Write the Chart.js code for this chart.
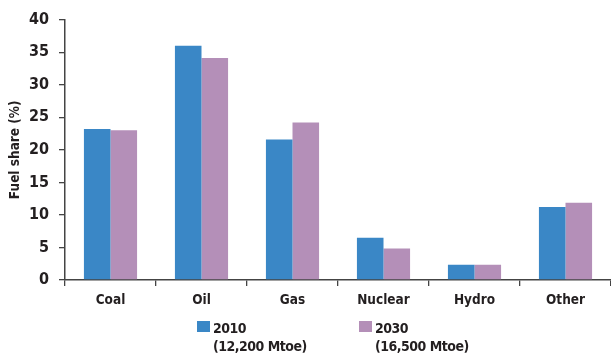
<!DOCTYPE html>
<html><head><meta charset="utf-8">
<script src="https://cdn.jsdelivr.net/npm/chart.js@4/dist/chart.umd.min.js"></script>
<style>html,body{margin:0;padding:0;background:#fff;}#wrap{width:611px;height:354px;position:relative;}</style>
</head><body><div id="wrap"><canvas id="c" width="611" height="354"></canvas></div>
<script>
const categories = ["Coal", "Oil", "Gas", "Nuclear", "Hydro", "Other"];
const values2010 = [23.2, 36.0, 21.6, 6.5, 2.35, 11.2];
const values2030 = [23.0, 34.1, 24.2, 4.85, 2.35, 11.85];
const seriesLabels = [["2010", "(12,200 Mtoe)"], ["2030", "(16,500 Mtoe)"]];
const yTicks = [0, 5, 10, 15, 20, 25, 30, 35, 40];

const FONT = "'DejaVu Sans Condensed', 'Liberation Sans Narrow', sans-serif";
const TXT = "#231f20";
const colors = ["#3a87c6", "#b48fb8"];

const legendPlugin = {
  id: 'customLegend',
  afterDraw(chart) {
    const ctx = chart.ctx;
    ctx.save();
    const xs = [197, 359];
    chart.data.datasets.forEach((ds, i) => {
      const x = xs[i];
      ctx.fillStyle = ds.backgroundColor;
      ctx.fillRect(x, 321, 13, 11);
      ctx.fillStyle = TXT;
      ctx.font = "bold 14px " + FONT;
      if ('letterSpacing' in ctx) ctx.letterSpacing = "-0.5px";
      ctx.textBaseline = 'alphabetic';
      ctx.textAlign = 'left';
      ctx.fillText(seriesLabels[i][0], x + 16, 333);
      ctx.fillText(seriesLabels[i][1], x + 16, 351);
    });
    ctx.restore();
  }
};

new Chart(document.getElementById('c'), {
  type: 'bar',
  data: {
    labels: categories,
    datasets: [
      { label: "2010", data: values2010, backgroundColor: colors[0], categoryPercentage: 0.584, barPercentage: 1.0 },
      { label: "2030", data: values2030, backgroundColor: colors[1], categoryPercentage: 0.584, barPercentage: 1.0 }
    ]
  },
  options: {
    responsive: false,
    animation: false,
    layout: { padding: { top: 19, left: 7, right: 0, bottom: 0 } },
    plugins: { legend: { display: false }, tooltip: { enabled: false } },
    scales: {
      x: {
        grid: { display: true, drawOnChartArea: false, offset: true, tickLength: 6, color: "#444", lineWidth: 1.3 },
        border: { color: "#444", width: 1.5 },
        ticks: { color: TXT, font: { family: FONT, size: 13.5, weight: 'bold' }, padding: 6 },
        afterFit(scale) { scale.height = 74; }
      },
      y: {
        min: 0, max: 40,
        afterBuildTicks(scale) { scale.ticks = yTicks.map(v => ({ value: v })); },
        grid: { display: true, drawOnChartArea: false, tickLength: 6, color: "#444", lineWidth: 1.3 },
        border: { color: "#444", width: 1.5 },
        ticks: { color: TXT, font: { family: FONT, size: 16, weight: 'bold' }, padding: 10 },
        title: { display: true, text: "Fuel share (%)", color: TXT, font: { family: FONT, size: 13.5, weight: 'bold' }, padding: { top: 0, bottom: 4 } },
        afterFit(scale) { scale.width = 58; }
      }
    }
  },
  plugins: [legendPlugin]
});
</script></body></html>
